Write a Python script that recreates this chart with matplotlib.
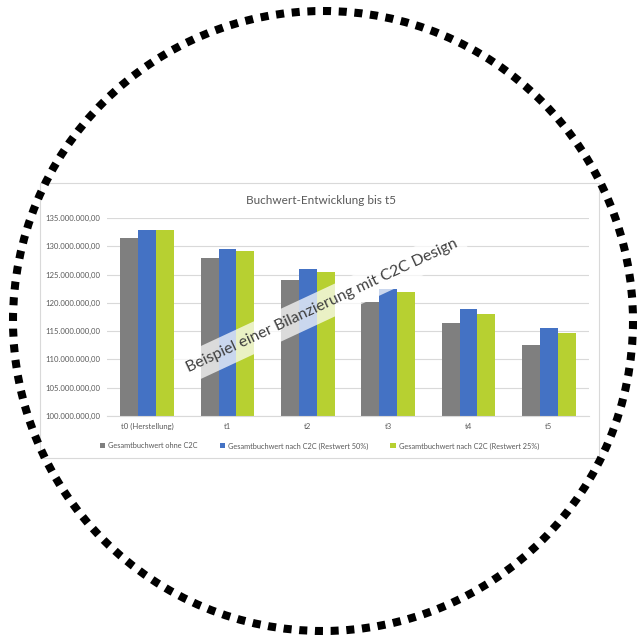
import matplotlib
matplotlib.use("Agg")
import matplotlib.pyplot as plt
import numpy as np
from matplotlib.patches import Rectangle, Circle

# data (values in Euro)
categories = ["t0 (Herstellung)", "t1", "t2", "t3", "t4", "t5"]
ohne_c2c = [131.5e6, 127.9e6, 124.0e6, 120.2e6, 116.4e6, 112.5e6]
restwert_50 = [132.8e6, 129.5e6, 125.9e6, 122.4e6, 119.0e6, 115.5e6]
restwert_25 = [132.8e6, 129.2e6, 125.5e6, 122.0e6, 118.1e6, 114.6e6]
series_names = ["Gesamtbuchwert ohne C2C",
                "Gesamtbuchwert nach C2C (Restwert 50%)",
                "Gesamtbuchwert nach C2C (Restwert 25%)"]
colors = ["#7f7f7f", "#4472c4", "#b7d031"]

plt.rcParams['font.family'] = ['Lato', 'DejaVu Sans']

W, H = 638, 640
fig = plt.figure(figsize=(W / 100, H / 100), dpi=100)

def fx(x):
    return x / W

def fy(y):
    return 1 - y / H

# background axes in pixel coords (chart frame)
bg = fig.add_axes([0, 0, 1, 1], zorder=-1)
bg.set_xlim(0, W)
bg.set_ylim(H, 0)
bg.axis('off')
bg.add_patch(Rectangle((40, 183), 559, 275, facecolor='white', edgecolor='#d9d9d9', lw=0.8))

# bar chart
ax = fig.add_axes([fx(107), fy(416), 482 / W, 198 / H])
ax.set_facecolor('none')
x = np.arange(len(categories))
bw = 0.224
for i, (vals, name) in enumerate(zip([ohne_c2c, restwert_50, restwert_25], series_names)):
    ax.bar(x + (i - 1) * bw, vals, width=bw, color=colors[i], label=name, zorder=2)

ax.set_xlim(-0.5, len(categories) - 0.5)
ax.set_ylim(100e6, 135e6)
ax.set_yticks(np.arange(100e6, 135e6 + 1, 5e6))

def de_fmt(v, pos=None):
    s = f"{v:,.2f}"
    return s.replace(",", "X").replace(".", ",").replace("X", ".")

ax.yaxis.set_major_formatter(plt.FuncFormatter(de_fmt))
ax.set_xticks(x)
ax.set_xticklabels(categories)
ax.grid(axis='y', color='#d9d9d9', lw=0.8, zorder=0)
for s in ['top', 'right', 'left']:
    ax.spines[s].set_visible(False)
ax.spines['bottom'].set_color('#d9d9d9')
ax.spines['bottom'].set_linewidth(0.8)
ax.tick_params(axis='y', length=0, pad=5, labelsize=5.6, labelcolor='#595959')
ax.tick_params(axis='x', length=0, pad=5, labelsize=5.6, labelcolor='#595959')

ax.legend(loc='center left', bbox_to_anchor=(fx(93), fy(446)), bbox_transform=fig.transFigure,
          ncol=3, frameon=False, fontsize=5.35, labelcolor='#595959',
          handlelength=0.7, handleheight=0.7, handletextpad=0.4, columnspacing=3.0)

fig.text(fx(321), fy(200), "Buchwert-Entwicklung bis t5", ha='center', va='center',
         fontsize=8.5, color='#595959')

# rotated watermark label
fig.text(fx(322), fy(306), "Beispiel einer Bilanzierung mit C2C Design", ha='center', va='center',
         rotation=25, rotation_mode='anchor', fontsize=11.4, color='#404040',
         bbox=dict(boxstyle='square,pad=0.5', facecolor='white', edgecolor='none', alpha=0.72))

# dotted circle
ov = fig.add_axes([0, 0, 1, 1], zorder=10)
ov.set_xlim(0, W)
ov.set_ylim(H, 0)
ov.axis('off')
ov.patch.set_alpha(0)
ov.add_patch(Circle((323, 321), 310, fill=False, edgecolor='black', lw=5.8,
                    linestyle=(0, (1, 0.95)), capstyle='butt'))

fig.savefig("out.png", dpi=100, facecolor='white')
